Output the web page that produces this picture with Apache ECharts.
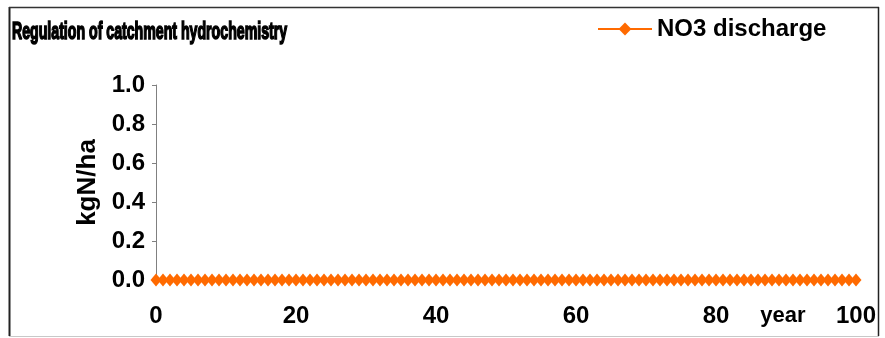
<!DOCTYPE html>
<html>
<head>
<meta charset="utf-8">
<script src="https://cdn.jsdelivr.net/npm/echarts@6/dist/echarts.min.js"></script>
<style>
  html, body { margin: 0; padding: 0; background: #fff; }
  #main { width: 885px; height: 338px; }
</style>
</head>
<body>
<div id="main"></div>
<script>
// years 0..100, discharge stays at zero the whole run
var years = [];
for (var i = 0; i <= 100; i++) years.push(i);
var no3Discharge = [
  0,0,0,0,0,0,0,0,0,0, 0,0,0,0,0,0,0,0,0,0,
  0,0,0,0,0,0,0,0,0,0, 0,0,0,0,0,0,0,0,0,0,
  0,0,0,0,0,0,0,0,0,0, 0,0,0,0,0,0,0,0,0,0,
  0,0,0,0,0,0,0,0,0,0, 0,0,0,0,0,0,0,0,0,0,
  0,0,0,0,0,0,0,0,0,0, 0,0,0,0,0,0,0,0,0,0,
  0
];
var yTicks = [0, 0.2, 0.4, 0.6, 0.8, 1.0];
var xTicks = [0, 20, 40, 60, 80, 100];

var pts = [];
for (var k = 0; k < years.length; k++) pts.push([years[k], no3Discharge[k]]);

var boldFont = '"Liberation Sans", Arial, sans-serif';
var orange = '#ff6a00';

var myChart = echarts.init(document.getElementById('main'));
var option = {
  animation: false,
  legend: {
    data: ['NO3 discharge'],
    left: 592, top: 12,
    itemWidth: 54, itemHeight: 16, itemGap: 6,
    textStyle: { fontFamily: boldFont, fontWeight: 'bold', fontSize: 24, color: '#000' }
  },
  grid: { left: 156, right: 29, top: 85, bottom: 58 },
  xAxis: {
    type: 'value', min: 0, max: 100, interval: 20,
    name: 'year', nameLocation: 'end', nameGap: -73,
    nameTextStyle: { fontFamily: boldFont, fontWeight: 'bold', fontSize: 22, color: '#000',
      align: 'center', verticalAlign: 'top', padding: [25, 0, 0, 0] },
    axisLine: { show: true, lineStyle: { color: '#808080' } },
    axisTick: { show: true, length: 3, lineStyle: { color: '#808080' } },
    splitLine: { show: false },
    axisLabel: {
      margin: 24,
      fontFamily: boldFont, fontWeight: 'bold', fontSize: 24, color: '#000',
      formatter: function (v) { return xTicks.indexOf(v) >= 0 ? String(v) : ''; }
    }
  },
  yAxis: {
    type: 'value', min: 0, max: 1, interval: 0.2, offset: 4,
    name: 'kgN/ha', nameLocation: 'middle', nameGap: 48, nameRotate: 90,
    nameTextStyle: { fontFamily: boldFont, fontWeight: 'bold', fontSize: 26, color: '#000' },
    axisLine: { show: true, lineStyle: { color: '#808080' } },
    axisTick: { show: true, length: 4, lineStyle: { color: '#808080' } },
    splitLine: { show: false },
    axisLabel: {
      margin: 7,
      fontFamily: boldFont, fontWeight: 'bold', fontSize: 24, color: '#000',
      formatter: function (v) {
        for (var j = 0; j < yTicks.length; j++) {
          if (Math.abs(yTicks[j] - v) < 1e-9) return yTicks[j].toFixed(1);
        }
        return '';
      }
    }
  },
  series: [{
    name: 'NO3 discharge',
    type: 'line',
    data: pts,
    symbol: 'diamond',
    symbolSize: [11, 13],
    showAllSymbol: true,
    lineStyle: { color: orange, width: 1 },
    itemStyle: { color: orange, borderWidth: 0 }
  }],
  graphic: [
    { type: 'text', x: 12, y: 21, scaleX: 0.615,
      style: { text: 'Regulation of catchment hydrochemistry', fill: '#000',
        stroke: '#000', lineWidth: 1.6,
        fontFamily: boldFont, fontWeight: 'bold', fontSize: 23 } },
    { type: 'line', shape: { x1: 9.5, y1: 7, x2: 9.5, y2: 336 }, style: { stroke: '#222', lineWidth: 2 } },
    { type: 'line', shape: { x1: 9, y1: 7.5, x2: 879, y2: 7.5 }, style: { stroke: '#333', lineWidth: 1.5 } },
    { type: 'line', shape: { x1: 878.5, y1: 7, x2: 878.5, y2: 336 }, style: { stroke: '#222', lineWidth: 1.5 } },
    { type: 'line', shape: { x1: 9, y1: 336.5, x2: 879, y2: 336.5 }, style: { stroke: '#c8c8c8', lineWidth: 1 } }
  ]
};
myChart.setOption(option);
</script>
</body>
</html>
